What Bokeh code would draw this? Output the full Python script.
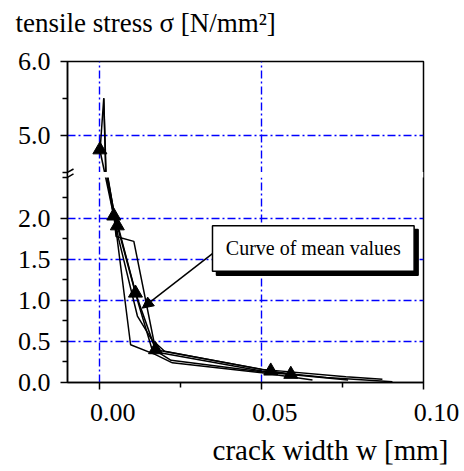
from bokeh.plotting import figure
from bokeh.models import (Range1d, FixedTicker, CustomJSTickFormatter, Arrow, Label, Title,
                          NormalHead, ColumnDataSource)
from bokeh.embed import file_html
from bokeh.resources import INLINE

# ---------------- data (crack width w [mm], tensile stress sigma [N/mm2]) -------------
W_TEST_1 = [0.0000, 0.0012, 0.0018, 0.0024, 0.0045, 0.0052, 0.0095, 0.0172, 0.0224, 0.0500, 0.0657]
S_TEST_1 = [4.75, 5.50, 4.50, 2.50, 2.05, 1.80, 0.46, 0.34, 0.24, 0.12, 0.03]

W_TEST_2 = [0.0012, 0.0019, 0.0025, 0.0042, 0.0050, 0.0105, 0.0167, 0.0200, 0.0500, 0.0760, 0.0873]
S_TEST_2 = [5.50, 4.50, 2.50, 2.10, 1.78, 1.72, 0.50, 0.38, 0.16, 0.07, 0.04]

W_TEST_3 = [0.0023, 0.0046, 0.0058, 0.0116, 0.0167, 0.0190, 0.0500, 0.0700, 0.0904]
S_TEST_3 = [2.50, 2.00, 1.75, 0.81, 0.48, 0.36, 0.14, 0.06, 0.01]

W_TEST_4 = [0.0022, 0.0044, 0.0060, 0.0120, 0.0160, 0.0220, 0.0500, 0.0767]
S_TEST_4 = [2.50, 2.00, 1.85, 0.95, 0.42, 0.27, 0.13, 0.03]

W_MEAN = [0.0000, 0.0043, 0.0054, 0.0110, 0.0172, 0.0528, 0.0590]
S_MEAN = [4.80, 2.03, 1.91, 1.09, 0.40, 0.14, 0.10]

X_MAJOR = [0.00, 0.05, 0.10]
X_MINOR = [0.025, 0.075]
Y_MAJOR = [0.0, 0.5, 1.0, 1.5, 2.0, 5.0, 6.0]
Y_MINOR = [0.25, 0.75, 1.25, 1.75, 2.25, 5.5]
Y_GRID = [0.5, 1.0, 1.5, 2.0, 5.0]
X_GRID = [0.00, 0.05]

Y_TITLE = "tensile stress σ [N/mm²]"
X_TITLE = "crack width w [mm]"
NOTE = "Curve of mean values"

# ---------------- broken y axis -------------
LOW_TOP = 2.5    # top of lower segment
UP_BOT = 4.5     # bottom of upper segment
GAP = 0.067      # visual gap between segments
UP_K = 0.897     # relative scale of the upper segment
BREAK_MARKS = [2.50, 2.56]   # axis positions of the two break strokes

# note box (layout, in axis coordinates)
BOX_L, BOX_R, BOX_B, BOX_T = 0.0348, 0.0971, 1.356, 1.912


def to_axis(s):
    if s <= LOW_TOP:
        return s
    return LOW_TOP + GAP + (s - UP_BOT) * UP_K


def src(w, s):
    return ColumnDataSource(dict(x=w, y=[to_axis(v) for v in s]))


FONT = "Liberation Serif"
BLUE = "#0000ff"
PX_X = 0.05 / 161.7     # one pixel in x
PX_Y = 1 / 82.8         # one pixel in y (lower segment)

p = figure(width=464, height=471, output_backend="svg", toolbar_location=None,
           x_range=Range1d(-0.01, 0.10), y_range=Range1d(0, to_axis(6.0)),
           min_border_left=67, min_border_right=41, min_border_top=61, min_border_bottom=86)
p.background_fill_color = "white"
p.border_fill_color = "white"
p.outline_line_color = "black"
p.outline_line_width = 1.5

# grids
p.xgrid.ticker = FixedTicker(ticks=X_GRID)
p.ygrid.ticker = FixedTicker(ticks=[to_axis(v) for v in Y_GRID])
for g in (p.xgrid, p.ygrid):
    g.grid_line_color = BLUE
    g.grid_line_width = 1.4
    g.grid_line_dash = "8 3 2 3"

# axes
p.xaxis.ticker = FixedTicker(ticks=X_MAJOR, minor_ticks=X_MINOR)
p.xaxis.formatter = CustomJSTickFormatter(
    code="return '\\u00a0\\u00a0\\u00a0\\u00a0' + tick.toFixed(2);")
p.yaxis.ticker = FixedTicker(ticks=[to_axis(v) for v in Y_MAJOR],
                             minor_ticks=[to_axis(v) for v in Y_MINOR] + BREAK_MARKS)
p.yaxis.formatter = CustomJSTickFormatter(
    args=dict(low_top=LOW_TOP, up_bot=UP_BOT, gap=GAP, up_k=UP_K),
    code="""
    const v = tick > low_top + 1e-9 ? up_bot + (tick - low_top - gap) / up_k : tick;
    return v.toFixed(1);
    """)
for ax in (p.xaxis[0], p.yaxis[0]):
    ax.axis_line_color = "black"
    ax.axis_line_width = 1.5
    ax.major_tick_line_width = 1.5
    ax.minor_tick_line_width = 1.5
    ax.major_tick_in = 0
    ax.major_tick_out = 7
    ax.minor_tick_in = 0
    ax.minor_tick_out = 5
    ax.major_label_text_font = FONT
    ax.major_label_text_font_size = "26px"
    ax.major_label_text_color = "black"
p.yaxis.major_label_standoff = 10
p.xaxis.major_label_standoff = 8

# titles (a blank white spacer next to the frame keeps the y title high)
p.add_layout(Title(text=".", text_font_size="8px", text_color="white", standoff=17),
             "above")
p.add_layout(Title(text=Y_TITLE, align="left", offset=-52, standoff=0,
                   text_font=FONT, text_font_size="27px", text_font_style="normal",
                   text_color="black"), "above")
p.add_layout(Title(text=X_TITLE, align="right", offset=-25, standoff=8,
                   vertical_align="top",
                   text_font=FONT, text_font_size="29px", text_font_style="normal",
                   text_color="black"), "below")

# test curves
for w, s in ((W_TEST_1, S_TEST_1), (W_TEST_2, S_TEST_2), (W_TEST_3, S_TEST_3), (W_TEST_4, S_TEST_4)):
    p.line("x", "y", source=src(w, s), line_color="black", line_width=1.5)

mean_src = src(W_MEAN, S_MEAN)
p.line("x", "y", source=mean_src, line_color="black", line_width=1.6)

# gap of the broken axis
p.quad(left=-0.01, right=0.10, bottom=LOW_TOP, top=LOW_TOP + GAP,
       fill_color="white", line_color=None)

p.scatter("x", "y", source=mean_src, marker="triangle", size=14,
          fill_color="black", line_color="black")

# note box with its shadow
p.quad(left=BOX_L + 4 * PX_X, right=BOX_R + 4 * PX_X, bottom=BOX_B - 4 * PX_Y,
       top=BOX_T - 4 * PX_Y, fill_color="black", line_color="black", line_width=1.5)
p.quad(left=BOX_L, right=BOX_R, bottom=BOX_B, top=BOX_T,
       fill_color="white", line_color="black", line_width=1.5)

# inner halves of the break strokes
for yb in BREAK_MARKS:
    p.add_layout(Arrow(end=None, x_start=-0.01, y_start=yb,
                       x_end=-0.01 + 6 * PX_X, y_end=yb + 3.5 * PX_Y,
                       line_color="black", line_width=1.5))

# annotation text and arrow
p.add_layout(Arrow(end=NormalHead(size=11, fill_color="black", line_color="black"),
                   x_start=BOX_L, y_start=1.57, x_end=0.0131, y_end=0.906,
                   line_color="black", line_width=1.5))
p.add_layout(Label(x=(BOX_L + BOX_R) / 2, y=(BOX_B + BOX_T) / 2, text=NOTE,
                   text_font=FONT, text_font_size="20px", text_color="black",
                   text_align="center", text_baseline="middle"))

open("out.html", "w").write(file_html(p, INLINE))
